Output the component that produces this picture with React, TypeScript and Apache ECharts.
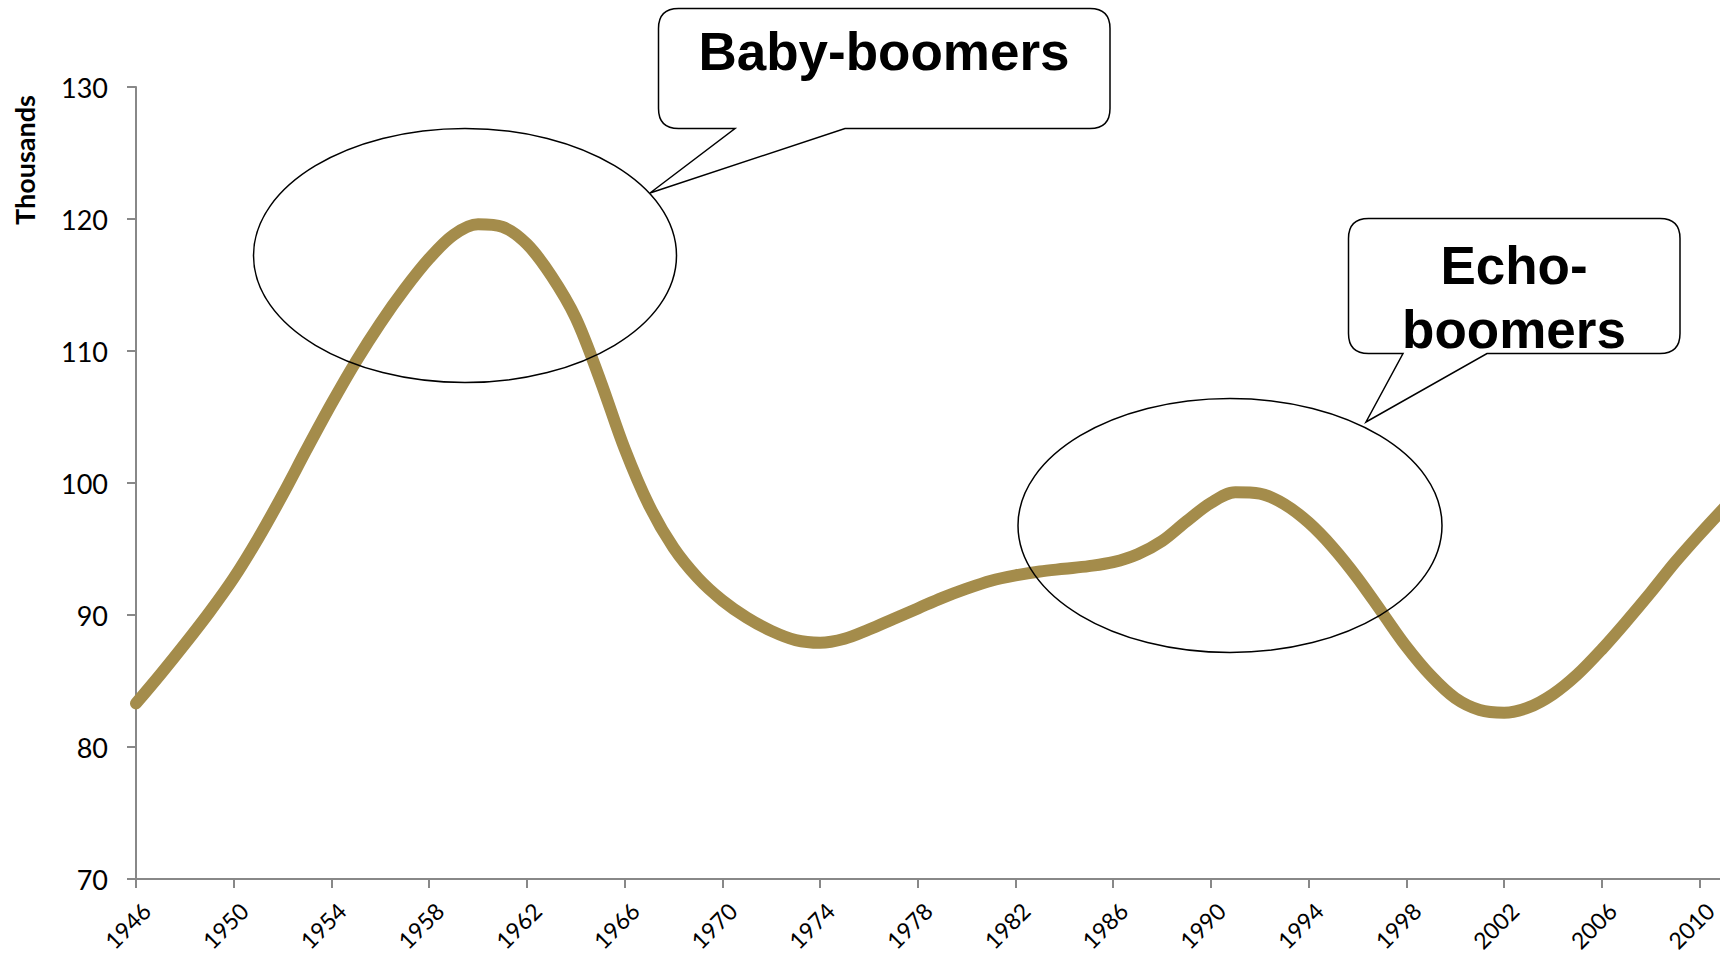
import React, { useEffect, useRef } from "react";
import * as echarts from "echarts";

// Yearly counts, in thousands
const years = [
  "1946", "1947", "1948", "1949", "1950", "1951", "1952", "1953", "1954", "1955",
  "1956", "1957", "1958", "1959", "1960", "1961", "1962", "1963", "1964", "1965",
  "1966", "1967", "1968", "1969", "1970", "1971", "1972", "1973", "1974", "1975",
  "1976", "1977", "1978", "1979", "1980", "1981", "1982", "1983", "1984", "1985",
  "1986", "1987", "1988", "1989", "1990", "1991", "1992", "1993", "1994", "1995",
  "1996", "1997", "1998", "1999", "2000", "2001", "2002", "2003", "2004", "2005",
  "2006", "2007", "2008", "2009", "2010", "2011",
];

const births = [
  83.3, 85.5, 87.8, 90.2, 92.8, 95.8, 99.1, 102.6, 106.0, 109.2,
  112.1, 114.7, 117.0, 118.8, 119.6, 119.4, 118.1, 115.7, 112.5, 107.8,
  102.6, 98.3, 95.1, 92.8, 91.1, 89.8, 88.8, 88.1, 87.9, 88.2,
  88.9, 89.7, 90.5, 91.3, 92.0, 92.6, 93.0, 93.3, 93.5, 93.7,
  94.0, 94.6, 95.6, 97.1, 98.5, 99.3, 99.2, 98.4, 97.0, 95.1,
  92.8, 90.2, 87.6, 85.4, 83.7, 82.8, 82.6, 83.0, 84.0, 85.5,
  87.4, 89.5, 91.7, 94.0, 96.1, 98.1,
];

const yMin = 70;
const yMax = 130;
const yStep = 10;

const unitLabel = "Thousands";
const babyBoomLabel = "Baby-boomers";
const echoBoomLabel = "Echo-\nboomers";

// Speech-bubble outlines (rounded box with a pointer)
const bubbleBaby =
  "M 678.5 8.5 H 1090 Q 1110 8.5 1110 28.5 V 108.5 Q 1110 128.5 1090 128.5 H 845 L 650 193 L 735 128.5 H 678.5 Q 658.5 128.5 658.5 108.5 V 28.5 Q 658.5 8.5 678.5 8.5 Z";
const bubbleEcho =
  "M 1368.5 218.5 H 1660 Q 1680 218.5 1680 238.5 V 333.5 Q 1680 353.5 1660 353.5 H 1487 L 1366 422 L 1403 353.5 H 1368.5 Q 1348.5 353.5 1348.5 333.5 V 238.5 Q 1348.5 218.5 1368.5 218.5 Z";

echarts.graphic.registerShape("bubbleBaby", echarts.graphic.extendPath(bubbleBaby, {}));
echarts.graphic.registerShape("bubbleEcho", echarts.graphic.extendPath(bubbleEcho, {}));

const LABEL_FONT = "Lato, 'Open Sans', sans-serif";
const CALLOUT_FONT = "'Liberation Sans', Arial, sans-serif";

export default function App() {
  const ref = useRef<HTMLDivElement>(null);

  useEffect(() => {
    if (!ref.current) return;
    const chart = echarts.init(ref.current, undefined, { renderer: "svg" });

    const outline = { fill: "none", stroke: "#000", lineWidth: 1.5 };

    chart.setOption({
      animation: false,
      backgroundColor: "#fff",
      grid: {
        left: 136,
        top: 87,
        width: 1588,
        height: 792,
        containLabel: false,
        outerBoundsMode: "none",
      },
      xAxis: {
        type: "category",
        data: years,
        boundaryGap: false,
        axisLine: { lineStyle: { color: "#888", width: 2 } },
        axisTick: { interval: 3, length: 9, lineStyle: { color: "#888", width: 2 } },
        axisLabel: {
          interval: 3,
          rotate: 45,
          align: "center",
          verticalAlign: "middle",
          // right padding nudges each slanted year slightly left of its tick
          padding: [0, 24, 0, 0],
          margin: 38,
          color: "#000",
          fontFamily: LABEL_FONT,
          fontSize: 23,
        },
        splitLine: { show: false },
      },
      yAxis: {
        type: "value",
        min: yMin,
        max: yMax,
        interval: yStep,
        axisLine: { show: true, lineStyle: { color: "#888", width: 2 } },
        axisTick: { show: true, length: 9, lineStyle: { color: "#888", width: 2 } },
        axisLabel: {
          margin: 28,
          color: "#000",
          fontFamily: LABEL_FONT,
          fontSize: 27,
        },
        splitLine: { show: false },
      },
      series: [
        {
          type: "line",
          data: births,
          smooth: 0.33,
          showSymbol: false,
          symbol: "none",
          lineStyle: { color: "#A48C4B", width: 12, cap: "round", join: "round" },
          z: 2,
        },
      ],
      graphic: [
        {
          type: "text",
          x: 24,
          y: 160,
          rotation: Math.PI / 2,
          z: 100,
          style: {
            text: unitLabel,
            font: `bold 27px ${LABEL_FONT}`,
            fill: "#000",
            align: "center",
            verticalAlign: "middle",
            textAlign: "center",
            textVerticalAlign: "middle",
          },
        },
        {
          type: "ellipse",
          z: 100,
          shape: { cx: 465, cy: 255.5, rx: 211.5, ry: 127 },
          style: outline,
        },
        {
          type: "ellipse",
          z: 100,
          shape: { cx: 1230, cy: 525.5, rx: 212, ry: 127 },
          style: outline,
        },
        {
          type: "bubbleBaby",
          x: 0,
          y: 0,
          z: 100,
          style: { fill: "#fff", stroke: "#000", lineWidth: 1.5 },
        },
        {
          type: "bubbleEcho",
          x: 0,
          y: 0,
          z: 100,
          style: { fill: "#fff", stroke: "#000", lineWidth: 1.5 },
        },
        {
          type: "text",
          x: 884,
          y: 51,
          z: 101,
          style: {
            text: babyBoomLabel,
            font: `bold 53px ${CALLOUT_FONT}`,
            fill: "#000",
            align: "center",
            verticalAlign: "middle",
            textAlign: "center",
            textVerticalAlign: "middle",
          },
        },
        {
          type: "text",
          x: 1514,
          y: 297,
          z: 101,
          style: {
            text: echoBoomLabel,
            font: `bold 53px ${CALLOUT_FONT}`,
            lineHeight: 64,
            fill: "#000",
            align: "center",
            verticalAlign: "middle",
            textAlign: "center",
            textVerticalAlign: "middle",
          },
        },
      ],
    });

    return () => chart.dispose();
  }, []);

  return (
    <div
      ref={ref}
      style={{ position: "absolute", left: 0, top: 0, width: 1720, height: 958 }}
    />
  );
}
